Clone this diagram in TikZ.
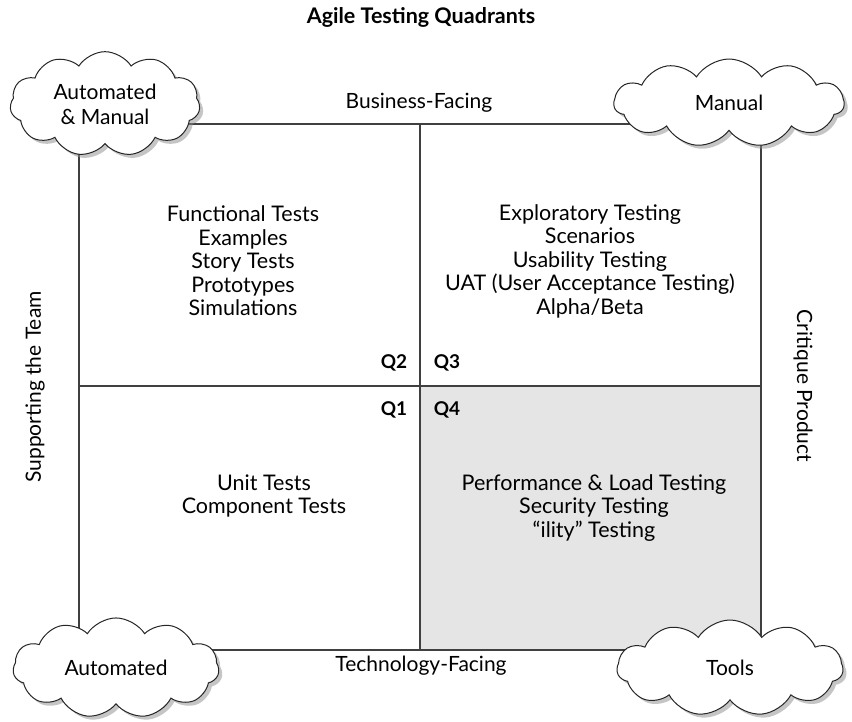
\documentclass[tikz,border=0pt]{standalone}
\usepackage{fontspec}
\setmainfont{Lato}
\usetikzlibrary{shapes.symbols,shadows}

\begin{document}
\begin{tikzpicture}[x=1pt,y=-1pt,line width=1.3pt,
  puff/.style={cloud,cloud puffs=11,cloud puff arc=115,draw=black!85,line width=1pt,fill=white,
    drop shadow={shadow xshift=3.5pt,shadow yshift=-3.5pt,fill=black!45},
    inner sep=0pt,align=center,font=\fontsize{21}{25}\selectfont},
  item/.style={align=center,font=\fontsize{21.5}{23.5}\selectfont},
  side/.style={font=\fontsize{21}{24}\selectfont},
  qlabel/.style={font=\bfseries\fontsize{19}{21}\selectfont}]

  \useasboundingbox (0,0) rectangle (852,721);

  % corners of the frame
  \coordinate (nw) at (79,124);
  \coordinate (se) at (761,650);
  \coordinate (mid) at (420,386);

  \fill[black!10] (mid) rectangle (se);
  \draw[black!75] (nw) rectangle (se);
  \draw[black!75] (mid |- nw) -- (mid |- se);
  \draw[black!75] (mid -| nw) -- (mid -| se);

  \node[font=\bfseries\fontsize{21.5}{24}\selectfont] (title) at (421,17) {Agile Testing Quadrants};

  \node[puff,aspect=1.7,minimum width=190,minimum height=92] (auto manual) at (105,104) {Automated\\\& Manual};
  \node[puff,aspect=2.2,minimum width=230,minimum height=88] (manual) at (729,103) {Manual};
  \node[puff,aspect=1.8,minimum width=206,minimum height=96] (automated) at (116,668) {Automated};
  \node[puff,aspect=2.0,minimum width=226,minimum height=96] (tools) at (730,668) {Tools};

  \node[side] (business) at (419,103) {Business-Facing};
  \node[side] (technology) at (421,666) {Technology-Facing};
  \node[side,rotate=90] (team) at (35,387) {Supporting the Team};
  \node[side,rotate=-90] (product) at (803,386) {Critique Product};

  \node[item] (q2 tests) at (243,261) {Functional Tests\\Examples\\Story Tests\\Prototypes\\Simulations};
  \node[item] (q3 tests) at (590,261) {Exploratory Testing\\Scenarios\\Usability Testing\\UAT (User Acceptance Testing)\\Alpha/Beta};
  \node[item] (q1 tests) at (264,496) {Unit Tests\\Component Tests};
  \node[item] (q4 tests) at (594,508) {Performance \& Load Testing\\Security Testing\\“ility” Testing};

  \node[qlabel] (q2) at (394,363) {Q2};
  \node[qlabel] (q3) at (447,363) {Q3};
  \node[qlabel] (q1) at (394,410) {Q1};
  \node[qlabel] (q4) at (447,410) {Q4};
\end{tikzpicture}
\end{document}
